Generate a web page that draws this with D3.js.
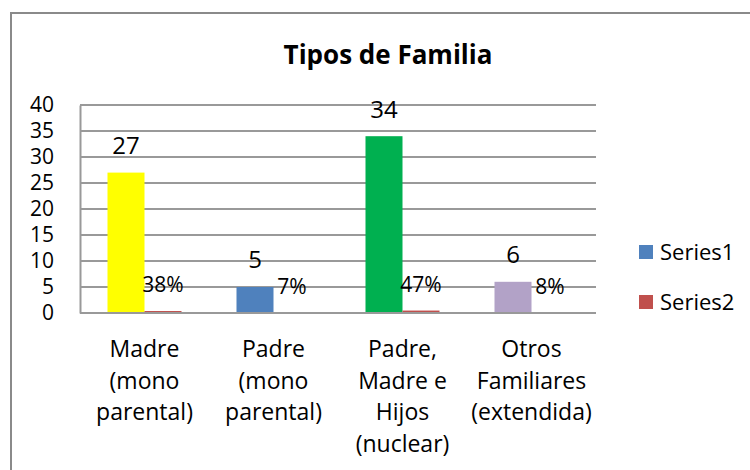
<!DOCTYPE html>
<html>
<head>
<meta charset="utf-8">
<script src="https://cdn.jsdelivr.net/npm/d3@7"></script>
<style>
  html, body { margin: 0; padding: 0; background: #fff; }
  svg { display: block; }
  text { font-family: "Open Sans", "Noto Sans", sans-serif; fill: #000; }
</style>
</head>
<body>
<svg id="chart" width="750" height="470"></svg>
<script>
// ---- data ----
const title = "Tipos de Familia";
const categories = ["Madre\n(mono\nparental)", "Padre\n(mono\nparental)", "Padre,\nMadre e\nHijos\n(nuclear)", "Otros\nFamiliares\n(extendida)"];
const seriesNames = ["Series1", "Series2"];
const series1 = [27, 5, 34, 6];
const series2 = [0.38, 0.07, 0.47, 0.08];
const pointColors = ["#FFFF00", "#4F81BD", "#00B050", "#B2A2C7"];
const seriesColors = ["#4F81BD", "#C0504D"];
const yTicks = [0, 5, 10, 15, 20, 25, 30, 35, 40];

// ---- layout ----
const svg = d3.select("#chart");
const plot = { left: 80, right: 596, top: 105, bottom: 313 };

// chart area border
svg.append("rect")
  .attr("x", 11).attr("y", 13)
  .attr("width", 780).attr("height", 500)
  .attr("fill", "#fff")
  .attr("stroke", "#8a8a8a").attr("stroke-width", 2);

svg.append("text")
  .attr("x", 388).attr("y", 64)
  .attr("text-anchor", "middle")
  .attr("font-weight", "bold")
  .attr("font-size", 26)
  .text(title);

const y = d3.scaleLinear().domain([0, 40]).range([plot.bottom, plot.top]);
const x0 = d3.scaleBand().domain(d3.range(categories.length)).range([plot.left, plot.right]).paddingInner(0).paddingOuter(0);
const x1 = d3.scaleBand().domain([0, 1]).range([0, x0.bandwidth()]).paddingInner(0).paddingOuter(0.743);

// gridlines
svg.append("g").selectAll("line").data(yTicks).join("line")
  .attr("x1", plot.left).attr("x2", plot.right)
  .attr("y1", d => y(d)).attr("y2", d => y(d))
  .attr("stroke", "#999").attr("stroke-width", 2);

// y axis
const yAxis = d3.axisLeft(y).tickValues(yTicks).tickSize(0).tickPadding(26);
const gy = svg.append("g").attr("transform", `translate(${plot.left},0)`).call(yAxis);
gy.select(".domain").attr("stroke", "#999").attr("stroke-width", 2);
gy.selectAll("text").attr("font-size", 21).attr("font-family", "Lato, 'Open Sans', sans-serif").attr("fill", "#000");

// bars series1
const groups = svg.append("g");
groups.selectAll("rect.s1").data(series1).join("rect")
  .attr("x", (d, i) => x0(i) + x1(0))
  .attr("width", x1.bandwidth())
  .attr("y", d => y(d))
  .attr("height", d => y(0) - y(d))
  .attr("fill", (d, i) => pointColors[i]);
groups.selectAll("rect.s2").data(series2).join("rect")
  .attr("x", (d, i) => x0(i) + x1(1))
  .attr("width", x1.bandwidth())
  .attr("y", d => y(d))
  .attr("height", d => y(0) - y(d))
  .attr("fill", seriesColors[1]);

// bottom axis line
svg.append("line")
  .attr("x1", plot.left).attr("x2", plot.right)
  .attr("y1", y(0)).attr("y2", y(0))
  .attr("stroke", "#999").attr("stroke-width", 2);

// labels
svg.append("g").selectAll("text").data(series1).join("text")
  .attr("x", (d, i) => x0(i) + x1(0) + x1.bandwidth() / 2)
  .attr("y", d => y(d) - 27)
  .attr("dy", "0.35em")
  .attr("text-anchor", "middle")
  .attr("font-size", 24)
  .text(d => d);
svg.append("g").selectAll("text").data(series2).join("text")
  .attr("x", (d, i) => x0(i) + x1(1) + x1.bandwidth() / 2)
  .attr("y", d => y(d) - 26)
  .attr("dy", "0.35em")
  .attr("text-anchor", "middle")
  .attr("font-size", 21)
  .text(d => Math.round(d * 100) + "%");

// category labels
const cat = svg.append("g").selectAll("text").data(categories).join("text")
  .attr("x", (d, i) => x0(i) + x0.bandwidth() / 2)
  .attr("y", 357)
  .attr("text-anchor", "middle")
  .attr("font-size", 23);
cat.each(function(d, i) {
  const lines = d.split("\n");
  d3.select(this).selectAll("tspan").data(lines).join("tspan")
    .attr("x", x0(i) + x0.bandwidth() / 2)
    .attr("dy", (l, j) => j === 0 ? 0 : 31.7)
    .text(l => l);
});

// legend
const leg = svg.append("g").selectAll("g").data(seriesNames).join("g")
  .attr("transform", (d, i) => `translate(639,${245 + i * 50})`);
leg.append("rect").attr("width", 14).attr("height", 14).attr("fill", (d, i) => seriesColors[i]);
leg.append("text").attr("x", 21).attr("y", 7).attr("dy", "0.35em").attr("font-size", 22).text(d => d);
</script>
</body>
</html>
